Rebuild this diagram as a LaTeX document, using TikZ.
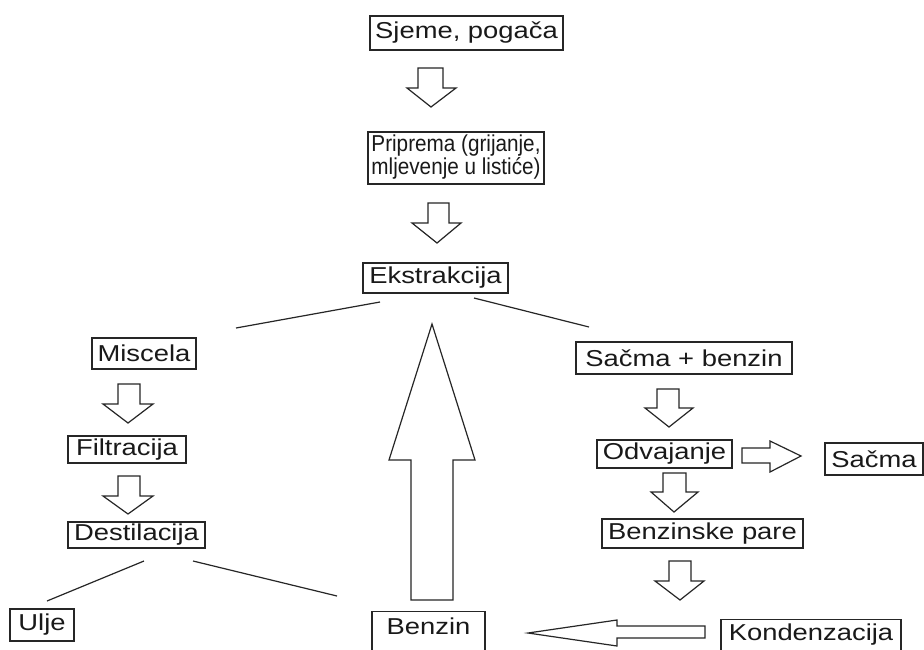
\documentclass[tikz,border=0pt]{standalone}
\usepackage{fontspec}
\setmainfont{Liberation Sans}
\usepackage{graphicx}
\newcommand\tx[1]{\scalebox{1.19}[1]{#1}}
\begin{document}
\begin{tikzpicture}[x=1pt,y=-1pt,
  line width=1.3pt,
  box/.style={draw=black!85, line width=1.3pt, inner sep=0pt, align=center,
    font=\fontsize{23}{22}\selectfont, text=black!90},
  blk/.style={draw=black!85, line width=1.2pt, fill=white, line join=miter, miter limit=20},
  thin/.style={draw=black!85, line width=1.2pt}]
\clip (0,0) rectangle (924,649);
\fill[white] (0,0) rectangle (924,649);

% boxes
\node[box, minimum width=193, minimum height=34] (sjeme) at (466.5,33) {\tx{Sjeme, pogača}};
\node[box, minimum width=176, minimum height=52] (priprema) at (456,158)
  {\scalebox{0.9}[1]{\begin{tabular}{@{}l@{}}Priprema (grijanje,\\mljevenje u listiće)\end{tabular}}};
\node[box, minimum width=145, minimum height=30] (ekstr) at (435.5,278) {\tx{Ekstrakcija}};
\node[box, minimum width=104, minimum height=31] (miscela) at (144,353.5) {\tx{Miscela}};
\node[box, minimum width=118, minimum height=27] (filtr) at (127,449.5) {\tx{Filtracija}};
\node[box, minimum width=137, minimum height=26] (destil) at (136.5,535) {\tx{Destilacija}};
\node[box, minimum width=216, minimum height=32] (smb) at (684,358) {\tx{Sačma + benzin}};
\node[box, minimum width=135, minimum height=28] (odv) at (664.5,454) {\tx{Odvajanje}};
\node[box, minimum width=98, minimum height=32] (sacma) at (874,459) {\tx{Sačma}};
\node[box, minimum width=201, minimum height=29] (bpare) at (702.5,533.5) {\tx{Benzinske pare}};
\node[box, minimum width=64, minimum height=32] (ulje) at (42,625) {\tx{Ulje}};
\node[box, minimum width=113, text height=23pt, text depth=40pt, anchor=north] (benzin) at (428.5,611) {\tx{Benzin}};
\node[box, minimum width=180, text height=21pt, text depth=30pt, anchor=north] (kond) at (811,619) {\tx{Kondenzacija}};

% split lines
\coordinate (e1) at (236,328); \coordinate (e2) at (380,302);
\coordinate (e3) at (474,298); \coordinate (e4) at (589,327);
\coordinate (d1) at (47,601);  \coordinate (d2) at (144,561);
\coordinate (d3) at (193,561); \coordinate (d4) at (337,596);
\draw[thin] (e1) -- (e2);
\draw[thin] (e3) -- (e4);
\draw[thin] (d1) -- (d2);
\draw[thin] (d3) -- (d4);

% block arrows (down)
\draw[blk] (418,68) -- (443,68) -- (443,88) -- (456,88) -- (431,107) -- (407,88) -- (418,88) -- cycle;
\draw[blk] (428,203) -- (449,203) -- (449,223) -- (461,223) -- (437,243) -- (412,223) -- (428,223) -- cycle;
\draw[blk] (118,384) -- (140,384) -- (140,404) -- (153,404) -- (128,423) -- (103,404) -- (118,404) -- cycle;
\draw[blk] (118,476) -- (140,476) -- (140,496) -- (153,496) -- (128,514) -- (103,496) -- (118,496) -- cycle;
\draw[blk] (657,389) -- (679,389) -- (679,408) -- (693,408) -- (669,427) -- (645,408) -- (657,408) -- cycle;
\draw[blk] (663,473) -- (686,473) -- (686,492) -- (698,492) -- (674,512) -- (651,492) -- (663,492) -- cycle;
\draw[blk] (669,561) -- (691,561) -- (691,581) -- (704,581) -- (680,600) -- (655,581) -- (669,581) -- cycle;
% right
\draw[blk] (742,448) -- (770,448) -- (770,441) -- (801,456) -- (770,472) -- (770,463) -- (742,463) -- cycle;
% left
\draw[blk] (705,626) -- (617,626) -- (617,620) -- (528,633) -- (617,646) -- (617,638) -- (705,638) -- cycle;
% big up arrow
\draw[blk] (411,600) -- (411,460) -- (389,460) -- (432,324) -- (475,460) -- (453,460) -- (453,600) -- cycle;
\end{tikzpicture}
\end{document}
